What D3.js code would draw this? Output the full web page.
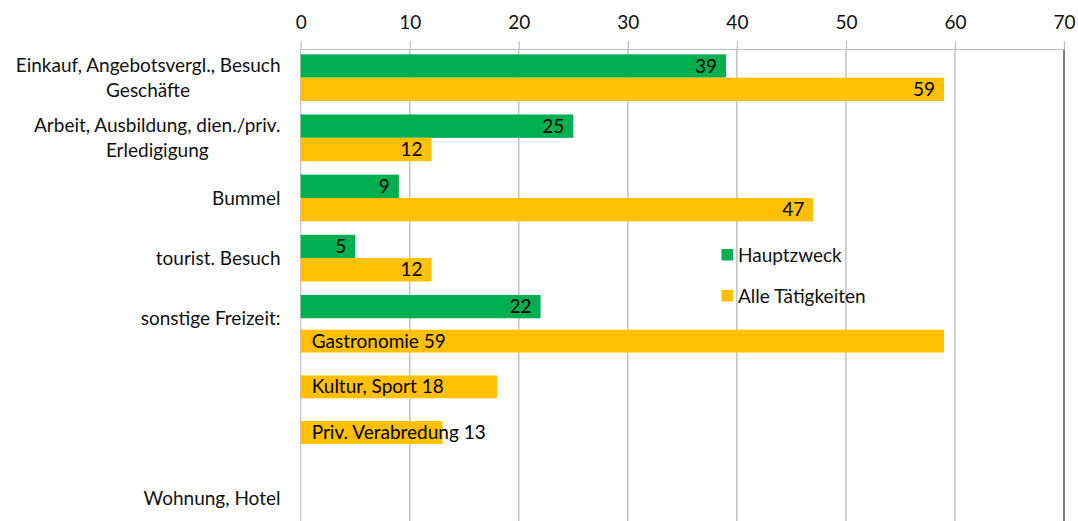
<!DOCTYPE html>
<html>
<head>
<meta charset="utf-8">
<script src="https://cdn.jsdelivr.net/npm/d3@7"></script>
<style>
  html, body { margin: 0; padding: 0; background: #fff; }
  svg { display: block; }
  text { font-family: Lato, "Open Sans", sans-serif; }
</style>
</head>
<body>
<svg id="chart" width="1078" height="521"></svg>
<script>
// ---- data ----
const categories = [
  "Einkauf, Angebotsvergl., Besuch\nGeschäfte",
  "Arbeit, Ausbildung, dien./priv.\nErledigigung",
  "Bummel",
  "tourist. Besuch",
  "sonstige Freizeit:",
  "",
  "",
  "Wohnung, Hotel"
];
const seriesNames = ["Hauptzweck", "Alle Tätigkeiten"];
const hauptzweck = [39, 25, 9, 5, 22, null, null, null];
const alleTaetigkeiten = [59, 12, 47, 12, null, null, null, null];
const freizeitCategories = ["Gastronomie", "Kultur, Sport", "Priv. Verabredung"];
const freizeitValues = [59, 18, 13];
const tickValues = [0, 10, 20, 30, 40, 50, 60, 70];

// ---- styles ----
const colors = ["#00B050", "#FFC000"];
const fontSize = 19;
const textColor = "#111";

const svg = d3.select("#chart");
const plotTop = 49, plotBottom = 529;

const x = d3.scaleLinear().domain([0, 70]).range([300.7, 1064]);

const y = d3.scaleBand()
  .domain(d3.range(categories.length))
  .range([47.6, 528.8])
  .paddingInner(0.224)
  .paddingOuter(0.112);

const ySeries = d3.scaleBand().domain([0, 1]).range([0, y.bandwidth()]);

const subStart = y(4) + y.bandwidth() / 2;
const ySub = d3.scaleBand()
  .domain(freizeitCategories)
  .range([subStart, subStart + 137.1])
  .paddingInner(0.5)
  .paddingOuter(0.25);

// gridlines
svg.append("g").selectAll("line")
  .data(tickValues)
  .join("line")
  .attr("x1", d => x(d)).attr("x2", d => x(d))
  .attr("y1", plotTop).attr("y2", plotBottom)
  .attr("stroke", (d, i) => i === tickValues.length - 1 ? "#262626" : (i === 0 ? "#bfbfbf" : "#b3b3b3"))
  .attr("stroke-width", 1.2);

// top axis
const axis = d3.axisTop(x).tickValues(tickValues).tickSize(8).tickSizeOuter(0).tickPadding(12.5)
  .tickFormat(d3.format("d"));
const gAxis = svg.append("g").attr("transform", `translate(0,${plotTop})`).call(axis);
gAxis.select(".domain").attr("stroke", "#bfbfbf").attr("stroke-width", 1.2);
gAxis.selectAll(".tick line").attr("stroke", "#bfbfbf").attr("stroke-width", 1.2);
gAxis.selectAll(".tick text")
  .attr("font-size", fontSize)
  .attr("font-family", "Lato, 'Open Sans', sans-serif")
  .attr("fill", textColor);

// bars
const seriesData = [hauptzweck, alleTaetigkeiten];
seriesData.forEach((vals, s) => {
  const g = svg.append("g");
  const pts = vals.map((v, i) => ({ v, i })).filter(d => d.v != null);
  g.selectAll("rect")
    .data(pts)
    .join("rect")
    .attr("x", x(0))
    .attr("y", d => y(d.i) + ySeries(s))
    .attr("width", d => x(d.v) - x(0))
    .attr("height", ySeries.bandwidth())
    .attr("fill", colors[s]);
  g.selectAll("text")
    .data(pts)
    .join("text")
    .attr("x", d => x(d.v) - 9)
    .attr("y", d => y(d.i) + ySeries(s) + ySeries.bandwidth() / 2)
    .attr("dy", "0.35em")
    .attr("text-anchor", "end")
    .attr("font-size", fontSize)
    .attr("fill", "#000")
    .text(d => d.v);
});

// sub bars for "sonstige Freizeit"
const subData = freizeitCategories.map((c, i) => ({ c, v: freizeitValues[i] }));
const gSub = svg.append("g");
gSub.selectAll("rect")
  .data(subData)
  .join("rect")
  .attr("x", x(0))
  .attr("y", d => ySub(d.c))
  .attr("width", d => x(d.v) - x(0))
  .attr("height", ySub.bandwidth())
  .attr("fill", colors[1]);
gSub.selectAll("text")
  .data(subData)
  .join("text")
  .attr("x", x(0) + 11)
  .attr("y", d => ySub(d.c) + ySub.bandwidth() / 2)
  .attr("dy", "0.35em")
  .attr("font-size", fontSize)
  .attr("fill", "#000")
  .text(d => `${d.c} ${d.v}`);

// category labels
const labelRight = 280.5;
const lineGap = 25;
categories.forEach((cat, i) => {
  if (!cat) return;
  const lines = cat.split("\n");
  const cy = y(i) + y.bandwidth() / 2;
  const g = svg.append("g");
  const texts = g.selectAll("text")
    .data(lines)
    .join("text")
    .attr("y", (d, k) => cy + (k - (lines.length - 1) / 2) * lineGap)
    .attr("dy", "0.35em")
    .attr("font-size", fontSize)
    .attr("fill", textColor)
    .attr("text-anchor", "middle")
    .text(d => d);
  let maxW = 0;
  texts.each(function () { maxW = Math.max(maxW, this.getComputedTextLength()); });
  texts.attr("x", labelRight - maxW / 2);
});

// legend
const legend = svg.append("g").attr("transform", "translate(721.5,249)");
seriesNames.forEach((name, s) => {
  const gl = legend.append("g").attr("transform", `translate(0,${s * 41})`);
  gl.append("rect").attr("width", 11.5).attr("height", 11.5).attr("fill", colors[s]);
  gl.append("text")
    .attr("x", 16.5)
    .attr("y", 5.9)
    .attr("dy", "0.35em")
    .attr("font-size", fontSize)
    .attr("fill", textColor)
    .text(name);
});
</script>
</body>
</html>
